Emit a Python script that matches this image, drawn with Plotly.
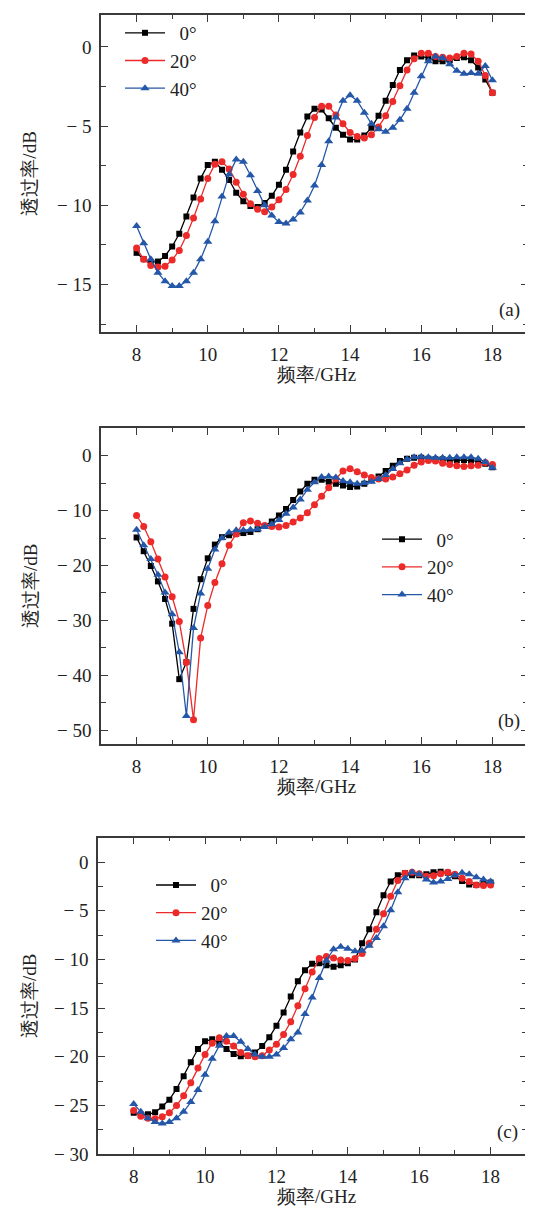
import plotly.graph_objects as go

freq = [round(8 + 0.2 * i, 1) for i in range(51)]

# Panel (a)
a_0 = [-13.0, -13.4, -13.6, -13.55, -13.2, -12.6, -11.8, -10.7, -9.5, -8.3,
       -7.45, -7.25, -7.75, -8.4, -9.2, -9.75, -10.05, -10.1, -9.85, -9.4,
       -8.7, -7.75, -6.6, -5.4, -4.4, -3.9, -3.95, -4.5, -5.1, -5.55,
       -5.85, -5.85, -5.6, -5.1, -4.35, -3.4, -2.4, -1.45, -0.85, -0.55,
       -0.6, -0.7, -0.9, -0.9, -0.85, -0.7, -0.65, -0.85, -1.3, -2.05, -2.9]
a_20 = [-12.7, -13.4, -13.8, -13.9, -13.85, -13.45, -12.85, -11.9, -10.8, -9.6,
        -8.3, -7.4, -7.25, -7.7, -8.55, -9.3, -9.9, -10.25, -10.4, -10.1,
        -9.65, -9.0, -8.05, -6.9, -5.6, -4.45, -3.75, -3.75, -4.3, -4.85,
        -5.4, -5.65, -5.75, -5.55, -5.05, -4.35, -3.45, -2.45, -1.45, -0.75,
        -0.4, -0.4, -0.6, -0.65, -0.7, -0.6, -0.4, -0.45, -0.9, -1.8, -2.9]
a_40 = [-11.3, -12.4, -13.4, -14.25, -14.8, -15.1, -15.1, -14.8, -14.25, -13.4,
        -12.3, -11.0, -9.45, -8.05, -7.1, -7.25, -8.1, -9.1, -10.0, -10.65,
        -11.05, -11.15, -10.9, -10.45, -9.7, -8.75, -7.45, -5.95, -4.45, -3.4,
        -3.05, -3.4, -4.15, -4.85, -5.2, -5.35, -5.1, -4.6, -3.9, -2.9,
        -1.85, -0.9, -0.6, -0.7, -1.1, -1.5, -1.7, -1.65, -1.7, -1.2, -2.1]

# Panel (b)
b_0 = [-14.9, -17.4, -20.1, -22.9, -26.1, -30.6, -40.7, -37.6, -27.9, -22.5,
       -18.7, -16.2, -14.85, -14.5, -14.25, -14.1, -13.9, -13.4, -12.8, -12.0,
       -10.9, -9.7, -8.1, -6.55, -5.1, -4.4, -4.4, -4.75, -5.1, -5.45,
       -5.7, -5.6, -5.1, -4.5, -3.8, -2.8, -1.85, -1.0, -0.55, -0.4,
       -0.4, -0.55, -0.65, -0.65, -0.8, -0.8, -0.8, -0.9, -1.0, -1.5, -2.1]
b_20 = [-10.9, -12.9, -15.7, -18.8, -22.1, -25.7, -30.2, -37.6, -48.1, -33.2,
        -27.3, -23.1, -19.7, -16.3, -14.25, -12.2, -11.9, -12.3, -12.7, -12.9,
        -13.0, -12.7, -12.1, -11.35, -10.4, -8.95, -7.4, -5.85, -4.25, -2.8,
        -2.4, -2.95, -3.55, -4.0, -4.25, -4.25, -3.9, -3.3, -2.6, -1.75,
        -1.15, -0.9, -1.0, -1.4, -1.6, -1.85, -2.0, -1.85, -1.75, -1.25, -1.6]
b_40 = [-13.5, -16.3, -18.8, -21.7, -24.9, -28.9, -35.8, -47.4, -31.4, -25.1,
        -20.6, -17.1, -15.0, -14.0, -13.6, -13.6, -13.5, -13.4, -13.0, -12.5,
        -11.7, -10.6, -9.45, -8.0, -6.2, -4.85, -3.9, -3.8, -4.0, -4.6,
        -4.85, -5.1, -5.0, -4.75, -4.25, -3.55, -2.45, -1.4, -0.65, -0.3,
        -0.2, -0.3, -0.4, -0.4, -0.4, -0.3, -0.3, -0.3, -0.55, -1.15, -2.2]

# Panel (c)
c_0 = [-25.75, -25.95, -25.9, -25.7, -25.1, -24.4, -23.3, -22.0, -20.55, -19.2,
       -18.4, -18.2, -18.6, -19.2, -19.7, -19.95, -19.9, -19.55, -18.9, -18.0,
       -16.8, -15.45, -13.8, -12.25, -11.1, -10.45, -10.4, -10.6, -10.75, -10.6,
       -10.4, -10.0, -8.35, -6.9, -5.15, -3.4, -2.0, -1.35, -1.15, -1.35,
       -1.35, -1.25, -1.05, -1.0, -1.1, -1.45, -1.95, -2.3, -2.35, -2.2, -2.1]
c_20 = [-25.5, -26.1, -26.3, -26.35, -26.15, -25.75, -25.0, -24.0, -22.65, -21.15,
        -19.75, -18.6, -18.05, -18.4, -18.9, -19.55, -19.9, -20.0, -19.9, -19.3,
        -18.7, -17.7, -16.4, -14.75, -13.0, -11.3, -9.9, -9.7, -9.85, -10.05,
        -10.1, -9.9, -9.4, -8.35, -6.9, -5.3, -3.5, -1.9, -1.15, -1.05,
        -1.2, -1.45, -1.4, -1.2, -1.05, -1.25, -1.65, -2.0, -2.35, -2.4, -2.35]
c_40 = [-24.85, -25.65, -26.3, -26.7, -26.85, -26.7, -26.3, -25.65, -24.65, -23.4,
        -21.85, -20.2, -18.85, -17.85, -17.85, -18.45, -19.2, -19.75, -20.0, -20.0,
        -19.75, -19.1, -18.2, -17.5, -15.6, -13.9, -11.9, -10.1, -8.95, -8.7,
        -8.9, -9.15, -9.1, -8.6, -7.8, -6.6, -4.95, -3.1, -1.65, -1.05,
        -1.25, -1.8, -2.1, -2.0, -1.75, -1.35, -1.1, -1.25, -1.55, -1.8, -2.0]

series_names = ["\u00a0\u00a00\u00b0", "20\u00b0", "40\u00b0"]

x_tickvals = [8, 10, 12, 14, 16, 18]
x_ticktext = ["8", "10", "12", "14", "16", "18"]
a_tickvals = [0, -5, -10, -15]
b_tickvals = [0, -10, -20, -30, -40, -50]
c_tickvals = [0, -5, -10, -15, -20, -25, -30]


def tick_labels(vals):
    return [("\u2212 " + str(abs(v))) if v < 0 else str(v) for v in vals]


colors = ["#000000", "#ED2A2A", "#2457A8"]
symbols = ["square", "circle", "triangle-up"]
msizes = [6, 7, 8]

panels = [
    dict(data=[a_0, a_20, a_40], label="(a)", yr=[-18, 2], tv=a_tickvals, mdtick=2.5,
         xd=[93/533, 520/533], yd=[1-327/1214, 1-7.3/1214],
         leg=dict(x=112/533, y=1-6/1214)),
    dict(data=[b_0, b_20, b_40], label="(b)", yr=[-52.5, 5], tv=b_tickvals, mdtick=5,
         xd=[93/533, 520/533], yd=[1-742.7/1214, 1-424/1214],
         leg=dict(x=369/533, y=1-517/1214)),
    dict(data=[c_0, c_20, c_40], label="(c)", yr=[-30, 2.5], tv=c_tickvals, mdtick=2.5,
         xd=[90/533, 518.3/533], yd=[1-1156.7/1214, 1-837.3/1214],
         leg=dict(x=143/533, y=1-866/1214)),
]

SERIF = "Liberation Serif"
TXT = "#222"
AX = "#3a3a3a"
fig = go.Figure()
annotations = []
layout_upd = {}
for pi, p in enumerate(panels):
    k = "" if pi == 0 else str(pi + 1)
    legname = "legend" + k
    for si in range(3):
        fig.add_trace(go.Scatter(
            x=freq, y=p["data"][si], mode="lines+markers",
            name=series_names[si],
            line=dict(color=colors[si], width=1.3),
            marker=dict(symbol=symbols[si], size=msizes[si], color=colors[si]),
            xaxis="x" + k, yaxis="y" + k, legend=legname,
        ))
    axis_common = dict(showline=True, linecolor=AX, linewidth=1.5, mirror="ticks",
                       ticks="inside", ticklen=7, tickwidth=1.3, tickcolor=AX,
                       showgrid=False, zeroline=False, ticklabelstandoff=4,
                       tickfont=dict(family=SERIF, size=19, color=TXT))
    layout_upd["xaxis" + k] = dict(
        axis_common, domain=p["xd"], range=[7, 19],
        tickmode="array", tickvals=x_tickvals, ticktext=x_ticktext,
        anchor="y" + k,
        minor=dict(dtick=1, tick0=0, ticks="inside", ticklen=4, tickwidth=1.2, tickcolor=AX))
    layout_upd["yaxis" + k] = dict(
        axis_common, domain=p["yd"], range=p["yr"],
        tickmode="array", tickvals=p["tv"], ticktext=tick_labels(p["tv"]),
        anchor="x" + k,
        minor=dict(dtick=p["mdtick"], tick0=0, ticks="inside", ticklen=5, tickwidth=1.2, tickcolor=AX))
    layout_upd[legname] = dict(x=p["leg"]["x"], y=p["leg"]["y"], xanchor="left", yanchor="top",
                               bgcolor="rgba(0,0,0,0)", borderwidth=0,
                               font=dict(family=SERIF, size=19, color=TXT),
                               itemwidth=40, tracegroupgap=0)
    annotations.append(dict(text=p["label"], xref="x" + k + " domain", yref="y" + k + " domain",
                            x=0.985, y=0.03, xanchor="right", yanchor="bottom", showarrow=False,
                            font=dict(family=SERIF, size=19, color=TXT)))
    annotations.append(dict(text="频率/GHz", xref="paper", yref="paper",
                            x=308/533, y=p["yd"][0] - 43/1214, xanchor="center", yanchor="middle",
                            showarrow=False, font=dict(family=SERIF, size=19, color=TXT)))
    annotations.append(dict(text="透过率/dB", xref="paper", yref="paper",
                            x=22/533, y=(p["yd"][0] + p["yd"][1]) / 2, xanchor="center",
                            yanchor="middle", textangle=-90,
                            showarrow=False, font=dict(family=SERIF, size=19, color=TXT)))

fig.update_layout(width=533, height=1214, margin=dict(l=0, r=0, t=0, b=0),
                  plot_bgcolor="white", paper_bgcolor="white", showlegend=True,
                  annotations=annotations, **layout_upd)
fig.write_html("out.html")
